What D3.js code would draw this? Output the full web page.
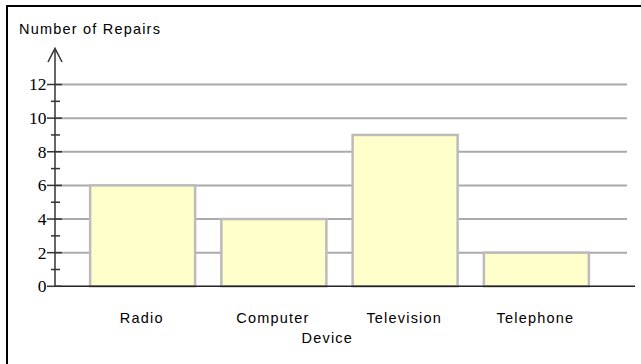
<!DOCTYPE html>
<html>
<head>
<meta charset="utf-8">
<script src="https://cdn.jsdelivr.net/npm/d3@7"></script>
<style>
  html, body { margin: 0; padding: 0; background: #fff; }
  svg { display: block; }
</style>
</head>
<body>
<svg id="chart" width="641" height="364"></svg>
<script>
// Repairs per device
const devices = ["Radio", "Computer", "Television", "Telephone"];
const repairs = [6, 4, 9, 2];
const yTicks = [0, 2, 4, 6, 8, 10, 12];
const yMinorTicks = [1, 3, 5, 7, 9, 11];
const yTitle = "Number of Repairs";
const xTitle = "Device";

const svg = d3.select("#chart");

const axisX = 55;
const gridRight = 627;
const baseRight = 635;
const sansFont = "'Liberation Sans', Arial, Helvetica, sans-serif";
const sansSize = 14.5;
const sansSpacing = 1.2;

const y = d3.scaleLinear().domain([0, 12]).range([286.3, 84.5]);
const x = d3.scaleBand().domain(devices).range([77, 602])
  .paddingInner(0.2).paddingOuter(0.1);

// frame (top and left edges)
svg.append("path")
  .attr("d", "M7,364 V6 H641")
  .attr("fill", "none").attr("stroke", "#000").attr("stroke-width", 2);

// horizontal grid lines
svg.append("g").selectAll("line").data(yTicks.filter(d => d > 0)).join("line")
  .attr("x1", axisX).attr("x2", gridRight)
  .attr("y1", d => y(d)).attr("y2", d => y(d))
  .attr("stroke", "#aaa").attr("stroke-width", 2);

// bars
svg.append("g").selectAll("rect").data(repairs).join("rect")
  .attr("x", (d, i) => x(devices[i]))
  .attr("width", x.bandwidth())
  .attr("y", d => y(d))
  .attr("height", d => y(0) - y(d))
  .attr("fill", "#ffffcc")
  .attr("stroke", "#bbb").attr("stroke-width", 2.5);

// baseline
svg.append("line")
  .attr("x1", axisX).attr("x2", baseRight)
  .attr("y1", y(0)).attr("y2", y(0))
  .attr("stroke", "#222").attr("stroke-width", 1.5);

// y axis line with open arrow head
svg.append("line")
  .attr("x1", axisX).attr("x2", axisX)
  .attr("y1", y(0)).attr("y2", 49)
  .attr("stroke", "#333").attr("stroke-width", 1.5);
svg.append("path")
  .attr("d", `M${axisX - 7},62 L${axisX},48.5 L${axisX + 7},62`)
  .attr("fill", "none").attr("stroke", "#333").attr("stroke-width", 1.5);

// major ticks
svg.append("g").selectAll("line").data(yTicks).join("line")
  .attr("x1", 47).attr("x2", 62)
  .attr("y1", d => y(d)).attr("y2", d => y(d))
  .attr("stroke", "#333").attr("stroke-width", 1.5);

// minor ticks
svg.append("g").selectAll("line").data(yMinorTicks).join("line")
  .attr("x1", 51).attr("x2", 60)
  .attr("y1", d => y(d)).attr("y2", d => y(d))
  .attr("stroke", "#333").attr("stroke-width", 1.5);

// tick labels
svg.append("g").selectAll("text").data(yTicks).join("text")
  .attr("x", 46.5).attr("y", d => y(d))
  .attr("dy", "0.34em")
  .attr("text-anchor", "end")
  .attr("font-family", "'Liberation Serif', 'Times New Roman', serif")
  .attr("font-size", 17.5)
  .attr("fill", "#000")
  .text(d => d);

// category labels
svg.append("g").selectAll("text").data(devices).join("text")
  .attr("x", d => x(d) + x.bandwidth() / 2 - 1.5 + sansSpacing / 2)
  .attr("y", 323)
  .attr("text-anchor", "middle")
  .attr("font-family", sansFont)
  .attr("font-size", sansSize)
  .attr("letter-spacing", sansSpacing)
  .attr("fill", "#000")
  .text(d => d);

// axis titles
svg.append("text")
  .attr("x", 326.7 + sansSpacing / 2).attr("y", 343)
  .attr("text-anchor", "middle")
  .attr("font-family", sansFont)
  .attr("font-size", sansSize)
  .attr("letter-spacing", sansSpacing)
  .attr("fill", "#000")
  .text(xTitle);

svg.append("text")
  .attr("x", 19).attr("y", 33.5)
  .attr("font-family", sansFont)
  .attr("font-size", sansSize)
  .attr("letter-spacing", sansSpacing)
  .attr("fill", "#000")
  .text(yTitle);
</script>
</body>
</html>
